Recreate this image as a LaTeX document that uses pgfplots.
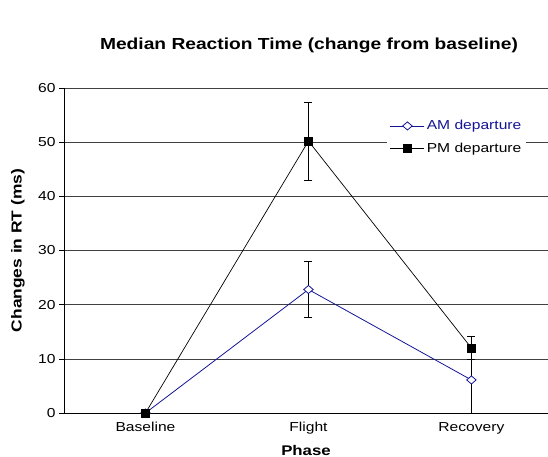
\documentclass[border=0pt]{standalone}
\usepackage{pgfplots}
\pgfplotsset{compat=1.18}
\usepackage{fontspec}
\setmainfont[FakeStretch=1.2]{Liberation Sans}
\definecolor{amblue}{RGB}{20,20,150}

\begin{document}
\begin{tikzpicture}[x=1bp,y=1bp]
\path[use as bounding box] (0,0) rectangle (548,457);

\begin{axis}[
  at={(64bp,44bp)}, anchor=south west,
  scale only axis, width=484bp, height=325bp,
  xmin=-0.5, xmax=2.47, ymin=0, ymax=60,
  xtick={0,1,2}, xticklabels={Baseline,Flight,Recovery},
  ytick={0,10,...,60},
  axis x line*=bottom, axis y line*=left,
  axis line style={black,line width=0.8pt,-},
  ymajorgrids=true, grid style={black!75,line width=0.6pt},
  major x tick style={draw=none},
  major y tick style={black,line width=0.6pt},
  tick align=outside, major tick length=5bp,
  /pgf/number format/assume math mode=true,
  tick label style={font=\fontsize{13bp}{15bp}\selectfont},
  xticklabel style={yshift=-1bp},
  xlabel={\textbf{Phase}}, ylabel={\textbf{Changes in RT (ms)}},
  label style={font=\fontsize{14bp}{16bp}\selectfont},
  ylabel style={font=\fontsize{14.5bp}{16bp}\selectfont},
  xlabel style={at={(axis description cs:0.5,0)},anchor=center,yshift=-37bp},
  ylabel style={at={(axis description cs:-0.095,0.5)},anchor=center},
  legend style={at={(0.667,0.916)},anchor=north west,draw=none,fill=white,
    font=\fontsize{13bp}{15bp}\selectfont,row sep=8bp,inner sep=3bp},
  legend cell align=left,
  legend image code/.code={\draw[mark repeat=2,mark phase=2]
    plot coordinates {(0bp,0bp) (17bp,0bp) (34bp,0bp)};},
]
\addplot[amblue,line width=0.8pt,mark=diamond*,mark size=4.5bp,
  mark options={fill=white,draw=amblue,line width=0.8pt,xscale=1.4,yscale=0.9},
  error bars/.cd, y dir=both, y explicit,
  error bar style={black,line width=0.7pt},
  error mark options={black,rotate=90,mark size=4bp,line width=0.7pt}]
  table[x=x,y=y,y error=e] {
x y e
0 0 0
1 22.8 5.2
2 6.1 6.1
};
\addlegendentry{\textcolor{amblue}{AM departure}}
\addplot[black,line width=0.7pt,mark=square*,mark size=4bp,
  error bars/.cd, y dir=both, y explicit,
  error bar style={black,line width=0.7pt},
  error mark options={black,rotate=90,mark size=4bp,line width=0.7pt}]
  table[x=x,y=y,y error=e] {
x y e
0 0 0
1 50.2 7.2
2 12.0 2.1
};
\addlegendentry{PM departure}
\end{axis}

\node[font=\fontsize{16bp}{18bp}\selectfont\bfseries] at (309,412) {Median Reaction Time (change from baseline)};
\end{tikzpicture}
\end{document}
